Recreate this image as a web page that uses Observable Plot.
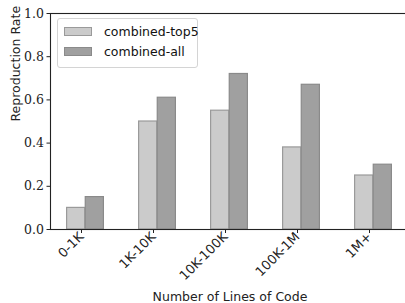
<!DOCTYPE html>
<html>
<head>
<meta charset="utf-8">
<script src="https://cdn.jsdelivr.net/npm/d3@7"></script>
<script src="https://cdn.jsdelivr.net/npm/@observablehq/plot@0.6"></script>
<style>
  html, body { margin: 0; padding: 0; background: #fff; }
  #wrap { position: relative; width: 405px; height: 303px; overflow: hidden; }
  #wrap svg { font-family: "DejaVu Sans", sans-serif; }
  .legend { position: absolute; left: 57px; top: 18px; width: 141px; height: 50px; box-sizing: border-box;
    border: 1px solid #d4d4d4; border-radius: 3px; background: rgba(255,255,255,0.85);
    font-family: "DejaVu Sans", sans-serif; font-size: 12.5px; color: #111; white-space: nowrap; }
  .item { position: absolute; left: 6px; display: flex; align-items: center; white-space: nowrap; }
  .sw { width: 28px; height: 9px; box-sizing: border-box; margin-right: 12px; flex: none; }
</style>
</head>
<body>
<div id="wrap"></div>
<script>
const categories = ["0-1K", "1K-10K", "10K-100K", "100K-1M", "1M+"];
const top5 = [0.10, 0.50, 0.55, 0.38, 0.25];
const all = [0.15, 0.61, 0.72, 0.67, 0.30];
const yTicks = [0, 0.2, 0.4, 0.6, 0.8, 1.0];
const seriesNames = ["combined-top5", "combined-all"];
const fills = ["#cbcbcb", "#a0a0a0"];
const strokes = ["#9a9a9a", "#8a8a8a"];

const rows = categories.map((c, i) => ({cat: c, top5: top5[i], all: all[i]}));

const plot = Plot.plot({
  width: 405,
  height: 303,
  marginLeft: 50,
  marginRight: -4,
  marginTop: 13,
  marginBottom: 74,
  style: {background: "white", overflow: "hidden"},
  x: {type: "band", domain: categories, range: [48, 410.5], padding: 0, label: null},
  y: {domain: [0, 1], label: null},
  marks: [
    Plot.barY(rows, {x: "cat", y: "top5", fill: fills[0], stroke: strokes[0], strokeWidth: 1.2, insetLeft: 17.6, insetRight: 36.25}),
    Plot.barY(rows, {x: "cat", y: "all", fill: fills[1], stroke: strokes[1], strokeWidth: 1.2, insetLeft: 36.25, insetRight: 17.6}),
    Plot.frame({stroke: "#222", strokeWidth: 1.1}),
    Plot.axisY({ticks: yTicks, tickFormat: d3.format(".1f"), tickSize: 3.5, tickPadding: 3,
      fontSize: 12.5, fontFamily: "DejaVu Serif", color: "#222", label: null}),
    Plot.axisX({tickSize: 4, tickPadding: 1, tickRotate: -45, dx: -4,
      fontSize: 13, color: "#222", label: null}),
    Plot.text(["Reproduction Rate"], {frameAnchor: "left", dx: -35, rotate: -90,
      fontSize: 12.5, fill: "#222"}),
    Plot.text(["Number of Lines of Code"], {frameAnchor: "bottom", dy: 71,
      fontSize: 12.5, fill: "#222"})
  ]
});

// serif font for the numeric y tick labels
d3.select(plot).selectAll("text").each(function() {
  if (/^\d\.\d$/.test(this.textContent.trim())) {
    this.setAttribute("font-family", "DejaVu Serif");
    this.style.setProperty("font-family", "'DejaVu Serif', 'Liberation Serif', serif", "important");
    this.style.setProperty("font-size", "12.5px", "important");
  }
});

const wrap = document.getElementById("wrap");
wrap.appendChild(plot);

const legend = document.createElement("div");
legend.className = "legend";
seriesNames.forEach((name, i) => {
  const item = document.createElement("div");
  item.className = "item";
  item.style.top = (5 + i * 20) + "px";
  const sw = document.createElement("div");
  sw.className = "sw";
  sw.style.background = fills[i];
  sw.style.border = "1px solid " + strokes[i];
  const lab = document.createElement("span");
  lab.textContent = name;
  item.appendChild(sw);
  item.appendChild(lab);
  legend.appendChild(item);
});
wrap.appendChild(legend);
</script>
</body>
</html>
